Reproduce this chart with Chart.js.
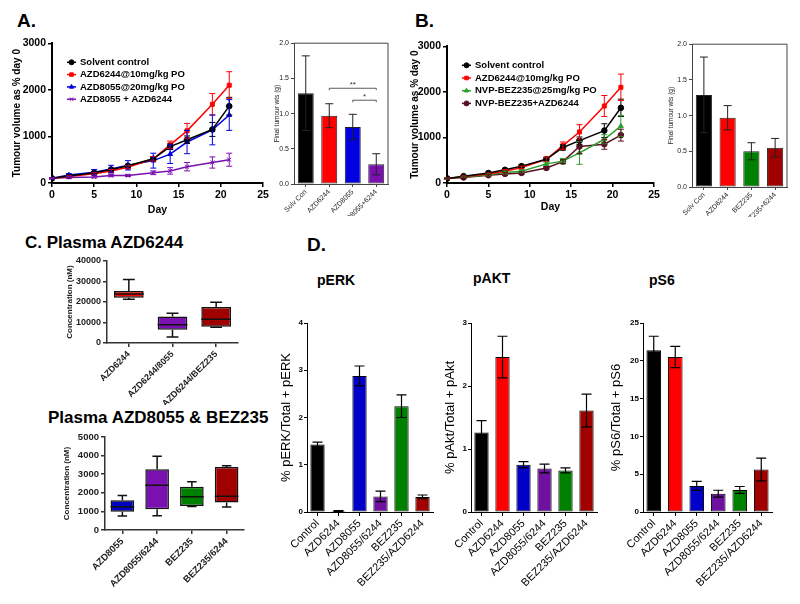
<!DOCTYPE html>
<html><head><meta charset="utf-8">
<script src="https://cdn.jsdelivr.net/npm/chart.js@4/dist/chart.umd.min.js"></script>
<style>
html,body{margin:0;padding:0;background:#fff;width:800px;height:604px;overflow:hidden;position:relative;font-family:Arial,"Liberation Sans",sans-serif}
canvas{position:absolute}
.lbl{position:absolute;font-weight:bold;color:#000;white-space:nowrap;line-height:1}
</style></head><body>
<div class="lbl" style="left:17px;top:11px;font-size:19px">A.</div>
<div class="lbl" style="left:415px;top:11px;font-size:19px">B.</div>
<div class="lbl" style="left:25px;top:234px;font-size:17px">C. Plasma AZD6244</div>
<div class="lbl" style="left:48px;top:409px;font-size:17px">Plasma AZD8055 &amp; BEZ235</div>
<div class="lbl" style="left:307px;top:235px;font-size:19px">D.</div>
<div class="lbl" style="left:317px;top:273px;font-size:14px">pERK</div>
<div class="lbl" style="left:473px;top:271px;font-size:14px">pAKT</div>
<div class="lbl" style="left:649px;top:273px;font-size:14px">pS6</div>
<script>
// ---------- DATA ----------
const days = [0, 2, 5, 7, 9, 12, 14, 16, 19, 21];
const dayTicks = [0, 5, 10, 15, 20, 25];
const volTicks = [0, 1000, 2000, 3000];

const ctrlVol    = [100, 150, 220, 290, 370, 520, 780, 930, 1150, 1650];
const ctrlErr    = [10, 15, 20, 25, 30, 40, 60, 80, 150, 190];
const azd6244Vol = [100, 140, 200, 260, 340, 520, 820, 1120, 1690, 2100];
const azd6244Err = [10, 15, 20, 30, 30, 50, 80, 160, 230, 290];
const azd8055Vol = [100, 170, 230, 300, 380, 480, 620, 880, 1140, 1460];
const azd8055Err = [10, 30, 60, 80, 100, 160, 200, 250, 320, 330];
const comboAVol  = [100, 120, 130, 160, 160, 220, 260, 350, 440, 500];
const comboAErr  = [10, 15, 20, 25, 20, 40, 70, 90, 120, 140];
const bez235Vol  = [100, 130, 180, 230, 260, 420, 480, 660, 960, 1250];
const bez235Err  = [10, 15, 20, 30, 30, 40, 60, 250, 100, 230];
const comboBVol  = [100, 120, 170, 200, 220, 330, 470, 800, 850, 1050];
const comboBErr  = [10, 15, 20, 25, 25, 30, 40, 150, 110, 130];

const wtTicks = [0, 0.5, 1.0, 1.5, 2.0];
const wtCatsA = ['Solv Con', 'AZD6244', 'AZD8055', 'AZD8055+6244'];
const wtA     = [1.29, 0.97, 0.81, 0.28];
const wtErrA  = [0.53, 0.17, 0.18, 0.15];
const sigA    = [{from: 1, to: 3, value: 1.36, text: '**'}, {from: 2, to: 3, value: 1.19, text: '*'}];
const wtCatsB = ['Solv Con', 'AZD6244', 'BEZ235', 'BEZ235+6244'];
const wtB     = [1.29, 0.97, 0.50, 0.55];
const wtErrB  = [0.53, 0.17, 0.12, 0.13];

const plasmaATicks = [0, 10000, 20000, 30000, 40000];
const plasmaACats = ['AZD6244', 'AZD6244/8055', 'AZD6244/BEZ235'];
const plasmaAMin  = [21300, 2900, 7700];
const plasmaAQ1   = [22100, 6500, 7900];
const plasmaAMed  = [23900, 8900, 11600];
const plasmaAQ3   = [25400, 12900, 17600];
const plasmaAMax  = [31000, 14500, 19900];

const plasmaBTicks = [0, 1000, 2000, 3000, 4000, 5000];
const plasmaBCats = ['AZD8055', 'AZD8055/6244', 'BEZ235', 'BEZ235/6244'];
const plasmaBMin  = [750, 770, 1270, 1230];
const plasmaBQ1   = [980, 1120, 1290, 1480];
const plasmaBMed  = [1250, 2410, 1790, 1820];
const plasmaBQ3   = [1600, 3270, 2320, 3390];
const plasmaBMax  = [1860, 3960, 2590, 3450];

const dCats   = ['Control', 'AZD6244', 'AZD8055', 'AZD8055/6244', 'BEZ235', 'BEZ235/AZD6244'];
const pERK    = [1.43, 0.02, 2.88, 0.33, 2.24, 0.32];
const pERKErr = [0.05, 0.01, 0.21, 0.11, 0.24, 0.04];
const pERKTicks = [0, 1, 2, 3, 4];
const pAKT    = [1.26, 2.46, 0.75, 0.69, 0.66, 1.61];
const pAKTErr = [0.19, 0.33, 0.05, 0.07, 0.04, 0.26];
const pAKTTicks = [0, 1, 2, 3];
const pS6     = [21.4, 20.5, 3.45, 2.43, 2.92, 5.62];
const pS6Err  = [1.85, 1.4, 0.6, 0.45, 0.45, 1.5];
const pS6Ticks = [0, 5, 10, 15, 20, 25];

// ---------- STYLE ----------
const FONT = 'Arial, "Liberation Sans", sans-serif';
Chart.defaults.font.family = FONT;
Chart.defaults.color = '#000';
const C_BLACK = '#000000', C_RED = '#ff0000', C_BLUE = '#0000e0', C_PURPLE = '#7a10b0',
      C_GREEN = '#008000', C_DRED = '#a00000', C_MAROON = '#5a1020', C_LGREEN = '#2e9e2e';
const dColors = [C_BLACK, C_RED, '#0000c8', '#7010a0', C_GREEN, C_DRED];

// ---------- PLUGINS ----------
const errorBarPlugin = {
  id: 'errorBars',
  afterDatasetsDraw(chart, args, o) {
    if (!o || !o.show) return;
    const ctx = chart.ctx, ys = chart.scales.y;
    chart.data.datasets.forEach((ds, di) => {
      if (!ds.errors) return;
      const meta = chart.getDatasetMeta(di);
      meta.data.forEach((el, i) => {
        const e = ds.errors[i];
        if (e == null) return;
        const d = ds.data[i];
        const v = typeof d === 'object' ? d.y : d;
        const x = el.x, yt = ys.getPixelForValue(v + e), yb = ys.getPixelForValue(v - e);
        const cw = o.cap;
        ctx.save();
        ctx.strokeStyle = o.color || ds.borderColor;
        ctx.lineWidth = o.lineWidth;
        ctx.beginPath();
        ctx.moveTo(x, yt); ctx.lineTo(x, yb);
        ctx.moveTo(x - cw, yt); ctx.lineTo(x + cw, yt);
        ctx.moveTo(x - cw, yb); ctx.lineTo(x + cw, yb);
        ctx.stroke();
        ctx.restore();
      });
    });
  }
};

const lineLegendPlugin = {
  id: 'lineLegend',
  afterDatasetsDraw(chart, args, o) {
    if (!o || !o.show) return;
    const {ctx, chartArea} = chart;
    ctx.save();
    chart.data.datasets.forEach((ds, i) => {
      const y = chartArea.top + o.top + i * o.spacing;
      const x0 = chartArea.left + o.left;
      ctx.strokeStyle = ds.borderColor; ctx.lineWidth = 1.5;
      ctx.beginPath(); ctx.moveTo(x0, y); ctx.lineTo(x0 + o.len, y); ctx.stroke();
      ctx.fillStyle = ds.backgroundColor; ctx.strokeStyle = ds.borderColor; ctx.lineWidth = 1;
      if (Chart.helpers && Chart.helpers.drawPoint) {
        Chart.helpers.drawPoint(ctx, {pointStyle: ds.pointStyle, radius: 2.5, borderWidth: 1, rotation: 0}, x0 + o.len / 2, y);
      } else {
        ctx.beginPath(); ctx.arc(x0 + o.len / 2, y, 2.5, 0, Math.PI * 2); ctx.fill();
      }
      ctx.font = o.font; ctx.textBaseline = 'middle'; ctx.textAlign = 'left'; ctx.fillStyle = '#000';
      ctx.fillText(ds.label, x0 + o.len + o.gap, y);
    });
    ctx.restore();
  }
};

const framePlugin = {
  id: 'frame',
  afterDraw(chart, args, o) {
    if (!o || !o.show) return;
    const {ctx, chartArea: a} = chart;
    ctx.save(); ctx.strokeStyle = o.color; ctx.lineWidth = o.width;
    ctx.beginPath();
    ctx.moveTo(a.left, a.top); ctx.lineTo(a.right, a.top); ctx.lineTo(a.right, a.bottom);
    ctx.stroke(); ctx.restore();
  }
};

const sigPlugin = {
  id: 'sig',
  afterDatasetsDraw(chart, args, o) {
    if (!o || !o.items) return;
    const ctx = chart.ctx, xs = chart.scales.x, ys = chart.scales.y;
    ctx.save();
    ctx.strokeStyle = '#333'; ctx.lineWidth = 0.8; ctx.fillStyle = '#333';
    ctx.font = o.font; ctx.textAlign = 'center'; ctx.textBaseline = 'bottom';
    o.items.forEach(s => {
      const x1 = xs.getPixelForValue(s.from), x2 = xs.getPixelForValue(s.to), y = ys.getPixelForValue(s.value);
      ctx.beginPath();
      ctx.moveTo(x1, y + 2); ctx.lineTo(x1, y); ctx.lineTo(x2, y); ctx.lineTo(x2, y + 2);
      ctx.stroke();
      ctx.fillText(s.text, (x1 + x2) / 2, y + 1);
    });
    ctx.restore();
  }
};

const boxPlugin = {
  id: 'boxWhisker',
  afterDatasetsDraw(chart, args, o) {
    if (!o || !o.show) return;
    const ctx = chart.ctx, ys = chart.scales.y;
    chart.data.datasets.forEach((ds, di) => {
      if (!ds.stats) return;
      const meta = chart.getDatasetMeta(di);
      meta.data.forEach((el, i) => {
        const x = el.x, hw = el.width / 2, cw = el.width * o.capRatio / 2;
        const pMin = ys.getPixelForValue(ds.stats.min[i]);
        const pMax = ys.getPixelForValue(ds.stats.max[i]);
        const pMed = ys.getPixelForValue(ds.stats.med[i]);
        const pQ1 = ys.getPixelForValue(ds.data[i][0]);
        const pQ3 = ys.getPixelForValue(ds.data[i][1]);
        ctx.save(); ctx.strokeStyle = o.color; ctx.lineWidth = o.lineWidth;
        ctx.beginPath();
        ctx.moveTo(x, pQ3); ctx.lineTo(x, pMax);
        ctx.moveTo(x - cw, pMax); ctx.lineTo(x + cw, pMax);
        ctx.moveTo(x, pQ1); ctx.lineTo(x, pMin);
        ctx.moveTo(x - cw, pMin); ctx.lineTo(x + cw, pMin);
        ctx.moveTo(x - hw, pMed); ctx.lineTo(x + hw, pMed);
        ctx.stroke(); ctx.restore();
      });
    });
  }
};

// ---------- HELPERS ----------
function mkCanvas(plot, pad) {
  const c = document.createElement('canvas');
  const w = plot.R - plot.L + pad.l + pad.r, h = plot.B - plot.T + pad.t + pad.b;
  c.width = w; c.height = h;
  c.style.left = (plot.L - pad.l) + 'px'; c.style.top = (plot.T - pad.t) + 'px';
  c.style.width = w + 'px'; c.style.height = h + 'px';
  document.body.appendChild(c);
  return c;
}
function fixedTicks(arr) { return s => { s.ticks = arr.map(v => ({value: v})); }; }

function lineChart(plot, pad, series, legendSpacing, yTitlePad, xTitlePad) {
  const c = mkCanvas(plot, pad);
  return new Chart(c, {
    type: 'line',
    data: {datasets: series.map(d => ({
      label: d.label,
      data: days.map((x, i) => ({x: x, y: d.vals[i]})),
      errors: d.errs,
      borderColor: d.color, backgroundColor: d.color,
      pointStyle: d.point, pointRadius: 2.8, pointBorderWidth: 1,
      borderWidth: 1.5, tension: 0
    }))},
    options: {
      responsive: false, animation: false, events: [],
      layout: {padding: {top: pad.t, right: pad.r, left: 0, bottom: 0}},
      plugins: {
        legend: {display: false}, tooltip: {enabled: false},
        errorBars: {show: true, cap: 3, lineWidth: 1},
        lineLegend: {show: true, left: 15, top: 19, spacing: legendSpacing, len: 9, gap: 4, font: 'bold 9.5px ' + FONT}
      },
      scales: {
        x: {
          type: 'linear', min: 0, max: 25,
          afterBuildTicks: fixedTicks(dayTicks),
          ticks: {font: {size: 10.5, weight: 'bold'}, color: '#000', padding: 2, callback: v => String(v)},
          grid: {display: true, drawOnChartArea: false, tickLength: 4, color: '#000', lineWidth: 1.5},
          border: {color: '#000', width: 2},
          title: {display: true, text: 'Day', font: {size: 10.5, weight: 'bold'}, color: '#000', padding: {top: 0, bottom: xTitlePad}},
          afterFit: s => { s.height = pad.b; }
        },
        y: {
          min: 0, max: 3000,
          afterBuildTicks: fixedTicks(volTicks),
          ticks: {font: {size: 10.5, weight: 'bold'}, color: '#000', padding: 2, callback: v => String(v)},
          grid: {display: true, drawOnChartArea: false, tickLength: 4, color: '#000', lineWidth: 1.5},
          border: {color: '#000', width: 2},
          title: {display: true, text: 'Tumour volume as % day 0', font: {size: 10, weight: 'bold'}, color: '#000', padding: {top: yTitlePad, bottom: 0}},
          afterFit: s => { s.width = pad.l; }
        }
      }
    },
    plugins: [errorBarPlugin, lineLegendPlugin]
  });
}

function wtChart(plot, pad, cats, vals, errs, colors, yTitlePad, sig) {
  const c = mkCanvas(plot, pad);
  return new Chart(c, {
    type: 'bar',
    data: {labels: cats, datasets: [{
      data: vals, errors: errs, backgroundColor: colors, borderColor: '#222', borderWidth: 1,
      borderSkipped: false, barPercentage: 0.68, categoryPercentage: 1
    }]},
    options: {
      responsive: false, animation: false, events: [],
      layout: {padding: {top: pad.t, right: pad.r, left: 0, bottom: 0}},
      plugins: {
        legend: {display: false}, tooltip: {enabled: false},
        errorBars: {show: true, cap: 4, lineWidth: 1, color: '#222'},
        frame: {show: true, color: '#444', width: 1},
        sig: {items: sig, font: '8px ' + FONT}
      },
      scales: {
        x: {
          ticks: {font: {size: 7}, color: '#222', minRotation: 45, maxRotation: 45, autoSkip: false, padding: 1},
          grid: {display: true, drawOnChartArea: false, offset: false, tickLength: 3, color: '#444'},
          border: {color: '#444', width: 1},
          afterFit: s => { s.height = pad.b; }
        },
        y: {
          min: 0, max: 2,
          afterBuildTicks: fixedTicks(wtTicks),
          ticks: {font: {size: 7}, color: '#222', padding: 2, callback: v => v.toFixed(1)},
          grid: {display: true, drawOnChartArea: false, tickLength: 3, color: '#444'},
          border: {color: '#444', width: 1},
          title: {display: true, text: 'Final tumour wts (g)', font: {size: 6.5}, color: '#222', padding: {top: yTitlePad, bottom: 0}},
          afterFit: s => { s.width = pad.l; }
        }
      }
    },
    plugins: [errorBarPlugin, framePlugin, sigPlugin]
  });
}

function boxChart(plot, pad, cats, mins, q1, med, q3, maxs, colors, yMax, ticksArr, yTitlePad, fs) {
  const c = mkCanvas(plot, pad);
  return new Chart(c, {
    type: 'bar',
    data: {labels: cats, datasets: [{
      data: q1.map((q, i) => [q, q3[i]]),
      stats: {min: mins, med: med, max: maxs},
      backgroundColor: colors, borderColor: '#111', borderWidth: 1.5,
      borderSkipped: false, barPercentage: 0.68, categoryPercentage: 1
    }]},
    options: {
      responsive: false, animation: false, events: [],
      layout: {padding: {top: pad.t, right: pad.r, left: 0, bottom: 0}},
      plugins: {
        legend: {display: false}, tooltip: {enabled: false},
        boxWhisker: {show: true, capRatio: 0.4, color: '#111', lineWidth: 1.5}
      },
      scales: {
        x: {
          ticks: {font: {size: fs, weight: 'bold'}, color: '#222', minRotation: 45, maxRotation: 45, autoSkip: false, padding: 2},
          grid: {display: true, drawOnChartArea: false, offset: false, tickLength: 4, color: '#333', lineWidth: 1.5},
          border: {color: '#333', width: 1.5},
          afterFit: s => { s.height = pad.b; }
        },
        y: {
          min: 0, max: yMax,
          afterBuildTicks: fixedTicks(ticksArr),
          ticks: {font: {size: fs, weight: 'bold'}, color: '#222', padding: 2, callback: v => String(v)},
          grid: {display: true, drawOnChartArea: false, tickLength: 4, color: '#333', lineWidth: 1.5},
          border: {color: '#333', width: 1.5},
          title: {display: true, text: 'Concentration (nM)', font: {size: 8, weight: 'bold'}, color: '#222', padding: {top: yTitlePad, bottom: 0}},
          afterFit: s => { s.width = pad.l; }
        }
      }
    },
    plugins: [boxPlugin]
  });
}

function dChart(plot, pad, vals, errs, yMax, ticksArr, yTitle, yTitlePad) {
  const c = mkCanvas(plot, pad);
  return new Chart(c, {
    type: 'bar',
    data: {labels: dCats, datasets: [{
      data: vals, errors: errs, backgroundColor: dColors, borderColor: '#000', borderWidth: 1,
      borderSkipped: false, barPercentage: 0.68, categoryPercentage: 1
    }]},
    options: {
      responsive: false, animation: false, events: [],
      layout: {padding: {top: pad.t, right: pad.r, left: 0, bottom: 0}},
      plugins: {
        legend: {display: false}, tooltip: {enabled: false},
        errorBars: {show: true, cap: 5, lineWidth: 1.2, color: '#000'}
      },
      scales: {
        x: {
          ticks: {font: {size: 11}, color: '#000', minRotation: 45, maxRotation: 45, autoSkip: false, padding: 1},
          grid: {display: true, drawOnChartArea: false, offset: false, tickLength: 4, color: '#000'},
          border: {color: '#000', width: 1},
          afterFit: s => { s.height = pad.b; }
        },
        y: {
          min: 0, max: yMax,
          afterBuildTicks: fixedTicks(ticksArr),
          ticks: {font: {size: 8, weight: 'bold'}, color: '#000', padding: 1, callback: v => String(v)},
          grid: {display: true, drawOnChartArea: false, tickLength: 3, color: '#000'},
          border: {color: '#000', width: 1},
          title: {display: true, text: yTitle, font: {size: 13}, color: '#000', padding: {top: yTitlePad, bottom: 0}},
          afterFit: s => { s.width = pad.l; }
        }
      }
    },
    plugins: [errorBarPlugin]
  });
}

// ---------- CHARTS ----------
lineChart({L: 52, T: 43, R: 263, B: 183}, {l: 45, b: 36, t: 8, r: 12}, [
  {label: 'Solvent control', vals: ctrlVol, errs: ctrlErr, color: C_BLACK, point: 'circle'},
  {label: 'AZD6244@10mg/kg PO', vals: azd6244Vol, errs: azd6244Err, color: C_RED, point: 'rect'},
  {label: 'AZD8055@20mg/kg PO', vals: azd8055Vol, errs: azd8055Err, color: C_BLUE, point: 'triangle'},
  {label: 'AZD8055 + AZD6244', vals: comboAVol, errs: comboAErr, color: C_PURPLE, point: 'crossRot'}
], 12.3, 4, 3);

wtChart({L: 294, T: 43, R: 388, B: 184}, {l: 26, b: 32, t: 6, r: 6}, wtCatsA, wtA, wtErrA,
  [C_BLACK, C_RED, C_BLUE, C_PURPLE], 5, sigA);

lineChart({L: 447, T: 46, R: 654, B: 183}, {l: 45, b: 36, t: 8, r: 12}, [
  {label: 'Solvent control', vals: ctrlVol, errs: ctrlErr, color: C_BLACK, point: 'circle'},
  {label: 'AZD6244@10mg/kg PO', vals: azd6244Vol, errs: azd6244Err, color: C_RED, point: 'rect'},
  {label: 'NVP-BEZ235@25mg/kg PO', vals: bez235Vol, errs: bez235Err, color: C_LGREEN, point: 'triangle'},
  {label: 'NVP-BEZ235+AZD6244', vals: comboBVol, errs: comboBErr, color: C_MAROON, point: 'circle'}
], 12.7, 7, 6);

wtChart({L: 692, T: 44, R: 787, B: 187}, {l: 28, b: 30, t: 6, r: 6}, wtCatsB, wtB, wtErrB,
  [C_BLACK, C_RED, C_GREEN, C_DRED], 3, []);

boxChart({L: 107, T: 261, R: 238, B: 343}, {l: 52, b: 62, t: 8, r: 8}, plasmaACats,
  plasmaAMin, plasmaAQ1, plasmaAMed, plasmaAQ3, plasmaAMax, [C_RED, '#7a10b0', C_DRED], 40000, plasmaATicks, 10, 9);

boxChart({L: 105, T: 437, R: 244, B: 530}, {l: 52, b: 72, t: 8, r: 8}, plasmaBCats,
  plasmaBMin, plasmaBQ1, plasmaBMed, plasmaBQ3, plasmaBMax, ['#0000c0', '#7a10b0', C_GREEN, C_DRED], 5000, plasmaBTicks, 9, 9.5);

dChart({L: 307, T: 323, R: 433, B: 512}, {l: 35, b: 80, t: 8, r: 8}, pERK, pERKErr, 4, pERKTicks, '% pERK/Total + pERK', 7);
dChart({L: 471, T: 323, R: 597, B: 512}, {l: 35, b: 80, t: 8, r: 8}, pAKT, pAKTErr, 3, pAKTTicks, '% pAkt/Total + pAkt', 7);
dChart({L: 643, T: 323, R: 772, B: 512}, {l: 38, b: 80, t: 8, r: 8}, pS6, pS6Err, 25, pS6Ticks, '% pS6/Total + pS6', 4);
</script>
</body></html>
